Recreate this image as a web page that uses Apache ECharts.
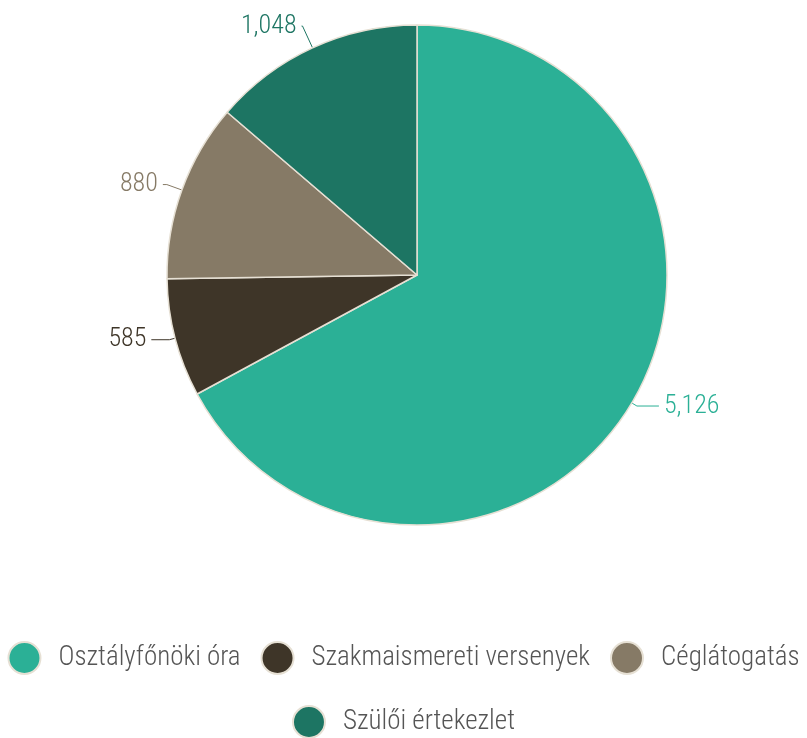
<!DOCTYPE html>
<html>
<head>
<meta charset="utf-8">
<script src="https://cdn.jsdelivr.net/npm/echarts@6/dist/echarts.min.js"></script>
<style>
  html, body { margin: 0; padding: 0; background: #fff; }
  #chart { width: 807px; height: 738px; }
</style>
</head>
<body>
<div id="chart"></div>
<script>
  const categories = ['Osztályfőnöki óra', 'Szakmaismereti versenyek', 'Céglátogatás', 'Szülői értekezlet']
  const values = [5126, 585, 880, 1048]
  const colors = ['#2bb096', '#3e3528', '#867a66', '#1d7563']
  // label line segments per slice [radial, horizontal]
  const lineLens = [[6, 22], [6, 18], [16, 4], [24, 1]]

  const font = '"Roboto Condensed", "Open Sans", sans-serif'
  const chart = echarts.init(document.getElementById('chart'))

  const data = categories.map((name, i) => ({
    name: name,
    value: values[i],
    itemStyle: { color: colors[i] },
    label: { color: colors[i] },
    labelLine: { length: lineLens[i][0], length2: lineLens[i][1], lineStyle: { color: colors[i] } }
  }))

  // legend text style, padding widens the gap between dot and text
  const legendText = { fontFamily: font, fontSize: 27, fontWeight: 300, color: '#555', padding: [0, 0, 0, 13] }

  chart.setOption({
    animation: false,
    legend: [
      {
        data: categories.slice(0, 3),
        top: 641,
        left: 'center',
        width: 807,
        padding: 0,
        icon: 'circle',
        itemWidth: 32,
        itemHeight: 32,
        itemGap: 20,
        textStyle: legendText
      },
      {
        data: categories.slice(3),
        top: 705,
        left: 'center',
        padding: 0,
        icon: 'circle',
        itemWidth: 32,
        itemHeight: 32,
        textStyle: legendText
      }
    ],
    series: [
      {
        type: 'pie',
        center: [417, 275],
        radius: 250,
        startAngle: 90,
        itemStyle: { borderColor: '#e6e0d4', borderWidth: 1.5 },
        label: {
          show: true,
          position: 'outside',
          fontFamily: font,
          fontSize: 26,
          fontWeight: 300,
          formatter: (p) => p.value.toLocaleString('en-US')
        },
        labelLine: { show: true, smooth: false },
        emphasis: { disabled: true },
        data: data
      }
    ]
  })
</script>
</body>
</html>
